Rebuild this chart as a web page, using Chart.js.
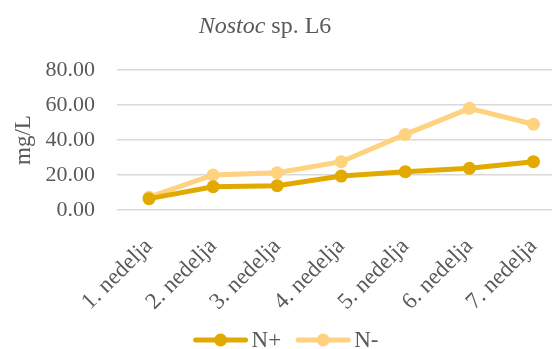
<!DOCTYPE html>
<html>
<head>
<meta charset="utf-8">
<script src="https://cdn.jsdelivr.net/npm/chart.js@4"></script>
<style>
  html, body { margin: 0; padding: 0; background: #fff; overflow: hidden; }
</style>
</head>
<body>
<canvas id="c" width="572" height="349"></canvas>
<script>
// Weekly values (mg/L)
const weeks = ['1. nedelja', '2. nedelja', '3. nedelja', '4. nedelja', '5. nedelja', '6. nedelja', '7. nedelja'];
const nPlus = [6.5, 13.3, 13.9, 19.4, 21.9, 23.8, 27.6];
const nMinus = [7.3, 20.0, 21.3, 27.6, 43.2, 58.1, 49.0];
const yTicks = [0, 20, 40, 60, 80];

const SERIF = '"Liberation Serif", "Times New Roman", serif';
const TEXT = '#595959';
const COL_PLUS = '#E2AA00';
const COL_MINUS = '#FFD27F';

// Title with the genus name in italics
const titlePlugin = {
  id: 'mixedTitle',
  afterDraw(chart) {
    const ctx = chart.ctx;
    ctx.save();
    ctx.fillStyle = TEXT;
    ctx.textBaseline = 'alphabetic';
    const a = 'Nostoc', b = ' sp. L6';
    const fi = 'italic 24px ' + SERIF, fn = '24px ' + SERIF;
    ctx.font = fi;
    const wa = ctx.measureText(a).width;
    ctx.font = fn;
    const wb = ctx.measureText(b).width;
    const x0 = 265 - (wa + wb) / 2;
    const y = 33;
    ctx.font = fi;
    ctx.fillText(a, x0, y);
    ctx.font = fn;
    ctx.fillText(b, x0 + wa, y);
    ctx.restore();
  }
};

// Bottom legend: line-with-dot swatch followed by the series name
const legendPlugin = {
  id: 'lineLegend',
  afterDraw(chart) {
    const ctx = chart.ctx;
    const font = '23px ' + SERIF;
    const sw = 54, gapText = 4, gapItem = 15;
    ctx.save();
    ctx.font = font;
    const items = chart.data.datasets.map(d => ({
      label: d.label, color: d.borderColor, w: ctx.measureText(d.label).width
    }));
    const total = items.reduce((s, it) => s + sw + gapText + it.w, 0) + gapItem * (items.length - 1);
    let x = chart.width / 2 - total / 2;
    const y = chart.height - 9;
    items.forEach(it => {
      ctx.strokeStyle = it.color; ctx.lineWidth = 5; ctx.lineCap = 'round';
      ctx.beginPath(); ctx.moveTo(x + 2, y); ctx.lineTo(x + sw - 2, y); ctx.stroke();
      ctx.fillStyle = it.color;
      ctx.beginPath(); ctx.arc(x + sw / 2, y, 6.5, 0, Math.PI * 2); ctx.fill();
      ctx.fillStyle = TEXT;
      ctx.textBaseline = 'middle';
      ctx.textAlign = 'left';
      ctx.fillText(it.label, x + sw + gapText, y + 1);
      x += sw + gapText + it.w + gapItem;
    });
    ctx.restore();
  }
};

const ds = (label, data, color) => ({
  label, data,
  borderColor: color, backgroundColor: color,
  borderWidth: 5,
  pointRadius: 6.5, pointHoverRadius: 6.5,
  pointBackgroundColor: color, pointBorderColor: color, pointBorderWidth: 0,
  pointStyle: 'circle',
  tension: 0
});

new Chart(document.getElementById('c'), {
  type: 'line',
  data: {
    labels: weeks,
    datasets: [ds('N+', nPlus, COL_PLUS), ds('N-', nMinus, COL_MINUS)]
  },
  options: {
    responsive: false,
    animation: false,
    events: [],
    layout: { padding: { top: 70, right: 0, left: 0, bottom: 10 } },
    plugins: {
      title: { display: false },
      tooltip: { enabled: false },
      legend: { display: false }
    },
    scales: {
      x: {
        offset: true,
        grid: { display: false },
        border: { display: false },
        afterFit(axis) { axis.height = 129; },
        ticks: {
          color: TEXT,
          font: { family: SERIF, size: 23 },
          maxRotation: 45, minRotation: 45,
          padding: 15
        }
      },
      y: {
        min: 0, max: 80,
        afterBuildTicks(axis) { axis.ticks = yTicks.map(v => ({ value: v })); },
        afterFit(axis) { axis.width = 117; },
        grid: { color: '#D9D9D9', lineWidth: 1.5, drawTicks: false },
        border: { display: false },
        title: {
          display: true, text: 'mg/L', color: TEXT,
          font: { family: SERIF, size: 23 }, padding: { top: 10, bottom: 0 }
        },
        ticks: {
          color: TEXT,
          font: { family: SERIF, size: 22 },
          padding: 22,
          callback: v => Number(v).toFixed(2)
        }
      }
    }
  },
  plugins: [titlePlugin, legendPlugin]
});
</script>
</body>
</html>
